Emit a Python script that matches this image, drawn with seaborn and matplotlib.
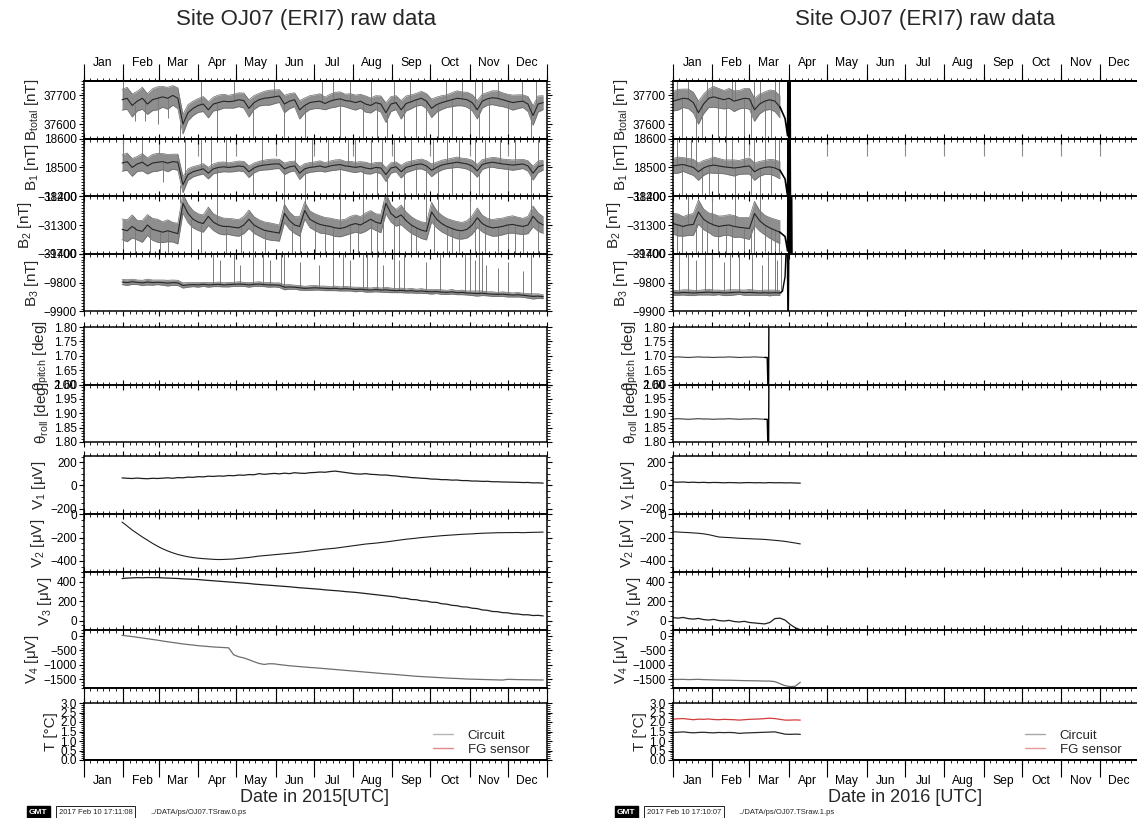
import numpy as np
import pandas as pd
import matplotlib
matplotlib.use("Agg")
import matplotlib.pyplot as plt
import matplotlib.dates as mdates
from matplotlib.lines import Line2D
from matplotlib.ticker import MultipleLocator, NullFormatter, NullLocator, FuncFormatter
import seaborn as sns

# ---------------------------------------------------------------- 2015 record
# magnetometer samples every 4 days starting 31 Jan 2015
t15_start = "2015-01-31"
t15_day0 = 30

btot15 = [37685, 37690, 37665, 37680, 37690, 37670, 37685, 37690, 37695, 37690, 37700, 37690,
          37600, 37640, 37655, 37665, 37670, 37650, 37670, 37675, 37680, 37678, 37680,
          37685, 37682, 37655, 37675, 37685, 37690, 37692, 37695,
          37698, 37670, 37680, 37685, 37650, 37665, 37675,
          37678, 37680, 37672, 37680, 37685, 37688, 37682, 37680,
          37675, 37680, 37670, 37665, 37675, 37670, 37640, 37670,
          37675, 37650, 37672, 37678, 37685, 37690, 37680,
          37655, 37668, 37675, 37680, 37685, 37690, 37688, 37685,
          37675, 37650, 37680, 37688, 37692, 37690, 37685,
          37680, 37675, 37678, 37680, 37670, 37630, 37670, 37675]
btot15_sd = [36, 38, 40, 34, 38, 36, 38, 40, 36, 38, 34, 36,
             34, 28, 25, 24, 26, 28, 24, 26, 24, 22, 24,
             24, 26, 30, 24, 22, 24, 26, 24,
             22, 30, 26, 24, 32, 26, 24,
             24, 26, 22, 24, 26, 24, 22, 26,
             26, 24, 28, 26, 24, 28, 34, 26,
             24, 32, 26, 24, 22, 24, 26,
             32, 26, 24, 22, 24, 26, 24, 26,
             28, 32, 24, 22, 24, 26, 24,
             24, 26, 24, 22, 26, 34, 28, 24]

b1_15 = [18515, 18520, 18500, 18512, 18518, 18505, 18515, 18518, 18520, 18515, 18520, 18518,
         18440, 18475, 18485, 18490, 18495, 18480, 18495, 18500, 18502, 18500, 18502,
         18505, 18503, 18485, 18498, 18505, 18508, 18510, 18512,
         18512, 18495, 18502, 18505, 18480, 18495, 18500,
         18502, 18505, 18500, 18505, 18508, 18510, 18505, 18503,
         18500, 18503, 18498, 18495, 18500, 18498, 18475, 18498,
         18502, 18485, 18500, 18505, 18510, 18512, 18505,
         18490, 18500, 18508, 18512, 18515, 18518, 18515, 18512,
         18505, 18488, 18510, 18515, 18518, 18515, 18512,
         18510, 18508, 18510, 18512, 18505, 18480, 18502, 18508]
b1_15_sd = [28, 30, 31, 26, 30, 28, 30, 31, 28, 30, 26, 28,
            28, 20, 18, 17, 18, 20, 17, 18, 17, 16, 17,
            17, 18, 20, 17, 16, 17, 18, 17,
            16, 20, 18, 17, 22, 18, 17,
            17, 18, 16, 17, 18, 17, 16, 18,
            18, 17, 20, 18, 17, 20, 24, 18,
            17, 22, 18, 17, 16, 17, 18,
            22, 18, 17, 16, 17, 18, 17, 18,
            20, 22, 17, 16, 17, 18, 17,
            17, 18, 17, 16, 18, 24, 20, 17]

b2_15 = [-31315, -31320, -31305, -31318, -31322, -31300, -31315, -31320, -31325, -31320, -31325, -31330,
         -31225, -31260, -31280, -31290, -31295, -31270, -31290, -31300, -31305, -31305, -31308,
         -31310, -31300, -31280, -31300, -31310, -31318, -31322, -31325,
         -31328, -31260, -31285, -31300, -31305, -31250, -31280,
         -31290, -31298, -31302, -31305, -31310, -31312, -31308, -31300,
         -31295, -31300, -31290, -31280, -31290, -31295, -31225, -31260,
         -31275, -31265, -31285, -31300, -31310, -31318, -31322,
         -31255, -31280, -31295, -31305, -31312, -31318, -31320, -31315,
         -31300, -31275, -31295, -31305, -31310, -31308, -31305,
         -31300, -31298, -31302, -31305, -31300, -31270, -31290, -31300]
b2_15_sd = [36, 38, 40, 34, 38, 36, 38, 40, 36, 38, 34, 36,
            34, 32, 30, 29, 30, 32, 29, 30, 29, 28, 29,
            29, 30, 32, 29, 28, 29, 30, 29,
            28, 32, 30, 29, 34, 30, 29,
            29, 30, 28, 29, 30, 29, 28, 30,
            30, 29, 32, 30, 29, 32, 36, 30,
            29, 34, 30, 29, 28, 29, 30,
            34, 30, 29, 28, 29, 30, 29, 30,
            32, 34, 29, 28, 29, 30, 29,
            29, 30, 29, 28, 30, 36, 32, 29]

b3_15 = [-9798, -9800, -9797, -9799, -9801, -9798, -9800, -9799, -9800, -9802, -9800, -9801,
         -9810, -9808, -9807, -9808, -9806, -9808, -9807, -9806, -9808, -9807, -9806,
         -9805, -9806, -9808, -9806, -9805, -9807, -9808, -9808,
         -9809, -9816, -9815, -9816, -9818, -9820, -9819,
         -9818, -9819, -9820, -9821, -9820, -9822, -9821, -9822,
         -9824, -9823, -9825, -9826, -9824, -9826, -9825, -9827,
         -9828, -9827, -9829, -9828, -9830, -9829, -9831,
         -9832, -9831, -9833, -9834, -9832, -9835, -9834, -9836,
         -9837, -9838, -9837, -9839, -9840, -9841, -9840,
         -9842, -9843, -9842, -9844, -9846, -9848, -9847, -9849]
b3_15_sd = [9, 10, 9, 8, 9, 10, 9, 8, 9, 10, 9, 9,
            9, 8, 7, 8, 7, 8, 7, 8, 7, 8, 7,
            8, 7, 8, 7, 8, 7, 8, 7,
            8, 9, 8, 7, 8, 7, 8,
            8, 7, 8, 7, 8, 7, 8, 7,
            8, 7, 8, 7, 8, 7, 9, 8,
            7, 8, 7, 8, 7, 8, 7,
            8, 7, 8, 7, 8, 7, 8, 7,
            8, 9, 8, 7, 8, 7, 8,
            8, 7, 8, 7, 8, 9, 8, 7]

# electrode voltages (same sampling)
v1_15 = [65, 62, 60, 64, 60, 58, 62, 60, 63, 66, 62, 68,
         66, 72, 70, 76, 74, 80, 78, 82, 80, 86, 84,
         90, 88, 94, 92, 102, 96, 100, 104,
         100, 106, 102, 110, 106, 104, 110,
         112, 116, 114, 120, 124, 118, 112, 106,
         100, 98, 102, 96, 94, 90, 90, 85,
         82, 76, 74, 68, 66, 62, 60,
         55, 54, 50, 50, 46, 47, 42, 42,
         38, 38, 35, 36, 32, 32, 30,
         29, 28, 27, 25, 26, 22, 23, 20]
v2_15 = [-66, -100, -135, -165, -195, -222, -250, -275, -297, -316, -332, -346,
         -357, -366, -373, -378, -382, -385, -388, -390, -389, -387, -385,
         -380, -376, -372, -366, -360, -356, -352, -348,
         -344, -340, -336, -332, -327, -322, -316,
         -311, -305, -300, -296, -292, -286, -280, -274,
         -268, -262, -256, -252, -248, -243, -238, -232,
         -226, -220, -214, -210, -205, -200, -196,
         -192, -188, -184, -181, -178, -175, -172, -170,
         -168, -165, -163, -161, -160, -158, -158,
         -157, -157, -156, -158, -156, -155, -154, -153]
v3_15 = [435, 440, 442, 445, 443, 446, 444, 445, 442, 440, 438, 436,
         432, 430, 428, 425, 420, 416, 412, 408, 404, 400, 396,
         392, 388, 384, 378, 374, 370, 366, 362,
         358, 354, 350, 345, 340, 336, 332,
         328, 324, 318, 314, 310, 306, 300, 296,
         292, 286, 280, 274, 268, 262, 256, 250,
         244, 232, 230, 218, 216, 204, 202,
         190, 188, 174, 170, 158, 154, 142, 140,
         128, 124, 110, 106, 94, 92, 82,
         80, 70, 68, 60, 60, 52, 54, 48]
v4_15 = [20, 0, -20, -45, -70, -95, -120, -145, -175, -200, -225, -250,
         -275, -295, -315, -335, -350, -365, -380, -390, -400, -410, -650,
         -720, -760, -820, -890, -950, -985, -960, -965,
         -990, -1010, -1030, -1045, -1060, -1075, -1090,
         -1100, -1115, -1130, -1145, -1160, -1175, -1190, -1205,
         -1220, -1235, -1250, -1265, -1280, -1295, -1310, -1320,
         -1335, -1350, -1365, -1380, -1395, -1405, -1415,
         -1425, -1435, -1445, -1455, -1465, -1470, -1480, -1490,
         -1495, -1500, -1505, -1510, -1515, -1520, -1525,
         -1500, -1505, -1510, -1512, -1515, -1518, -1520, -1522]

# short-lived disturbances (day of year, value reached)
btot15_spk_day = [31, 40, 48, 58, 66, 76, 92, 105, 118, 133, 150, 158, 174, 188, 196, 202, 210,
                  220, 226, 231, 239, 244, 252, 257, 262, 270, 279, 285, 290, 298, 304, 308, 311,
                  314, 319, 326, 334, 345, 352, 356]
btot15_spk_end = [37750, 37610, 37610, 37600, 37620, 37550, 37750, 37550, 37750, 37550, 37750,
                  37550, 37550, 37750, 37750, 37550, 37750, 37550, 37750, 37550, 37550, 37750,
                  37550, 37750, 37550, 37550, 37550, 37750, 37550, 37750, 37550, 37750, 37550,
                  37750, 37550, 37750, 37550, 37750, 37550, 37750]
b1_15_spk_day = [31, 46, 62, 76, 80, 92, 100, 105, 112, 133, 140, 158, 166, 174, 180, 192, 202,
                 208, 214, 220, 226, 231, 235, 239, 244, 252, 258, 262, 270, 275, 279, 286, 290,
                 296, 304, 308, 311, 316, 319, 328, 334, 340, 352, 358]
b1_15_spk_end = [18600, 18600, 18450, 18400, 18600, 18600, 18600, 18400, 18600, 18400, 18600,
                 18400, 18600, 18400, 18600, 18600, 18400, 18600, 18600, 18400, 18600, 18400,
                 18600, 18400, 18600, 18400, 18600, 18400, 18400, 18600, 18400, 18600, 18400,
                 18600, 18400, 18600, 18400, 18600, 18400, 18600, 18400, 18600, 18400, 18600]
b2_15_spk_day = [31, 40, 52, 60, 66, 76, 84, 92, 105, 112, 124, 133, 143, 158, 164, 170, 174,
                 182, 190, 196, 202, 210, 216, 220, 226, 231, 236, 239, 244, 248, 252, 258, 262,
                 270, 276, 279, 286, 290, 296, 304, 308, 311, 316, 319, 326, 334, 340, 346, 352, 358]
b2_15_spk_end = [-31400, -31400, -31400, -31400, -31400, -31200, -31400, -31400, -31200, -31400,
                 -31400, -31400, -31400, -31200, -31400, -31400, -31200, -31400, -31400, -31400,
                 -31200, -31400, -31400, -31200, -31400, -31400, -31400, -31200, -31400, -31400,
                 -31200, -31400, -31400, -31200, -31400, -31200, -31400, -31400, -31400, -31200,
                 -31400, -31400, -31400, -31200, -31400, -31400, -31400, -31400, -31200, -31400]
b3_15_spk_day = [102, 107, 118, 123, 133, 141, 147, 155, 158, 170, 185, 196, 204, 210, 220, 223,
                 231, 236, 244, 248, 252, 270, 281, 300, 304, 308, 311, 314, 317, 326, 334, 346, 352]
b3_15_spk_end = [-9700, -9720, -9700, -9740, -9700, -9700, -9720, -9700, -9700, -9730, -9740,
                 -9700, -9700, -9720, -9700, -9700, -9700, -9740, -9700, -9720, -9700, -9730,
                 -9700, -9700, -9700, -9720, -9700, -9700, -9740, -9750, -9730, -9760, -9700]

# ---------------------------------------------------------------- 2016 record
t16_start = "2016-01-01"
t16_day0 = 0

btot16 = [37680, 37685, 37690, 37688, 37675, 37640, 37670, 37690, 37695, 37690, 37685,
          37690, 37680, 37685, 37690, 37688, 37650, 37670, 37680, 37685, 37680, 37660]
btot16_sd = [34, 36, 32, 34, 36, 40, 34, 32, 36, 34, 32, 34, 36, 32, 34, 36, 40, 34, 32, 34, 36, 38]
b1_16 = [18505, 18508, 18510, 18505, 18500, 18485, 18498, 18505, 18508, 18505, 18502,
         18500, 18498, 18500, 18503, 18505, 18485, 18495, 18500, 18502, 18498, 18490]
b1_16_sd = [26, 28, 24, 26, 28, 30, 26, 24, 28, 26, 24, 26, 28, 24, 26, 28, 30, 26, 24, 26, 28, 30]
b2_16 = [-31295, -31300, -31305, -31300, -31298, -31255, -31280, -31292, -31300, -31305, -31302,
         -31300, -31305, -31308, -31310, -31312, -31260, -31285, -31300, -31310, -31318, -31325]
b2_16_sd = [36, 38, 34, 36, 38, 42, 36, 34, 38, 36, 34, 36, 38, 34, 36, 38, 42, 36, 34, 36, 38, 40]
b3_16 = [-9835, -9836, -9834, -9835, -9836, -9835, -9834, -9833, -9835, -9834, -9836,
         -9835, -9834, -9833, -9835, -9834, -9835, -9836, -9835, -9836, -9835, -9836]
b3_16_sd = [9, 8, 9, 10, 9, 8, 9, 10, 9, 8, 9, 10, 9, 8, 9, 10, 9, 8, 9, 10, 9, 8]

# readings after the sensor was disturbed at the end of March
b16_tail_day = [84, 88, 90, 90.6, 91.2, 91.8, 92.4]
btot16_tail = [37660, 37620, 37560, 38000, 37200, 38000, 37200]
b1_16_tail = [18490, 18460, 18400, 18800, 18200, 18800, 18200]
b2_16_tail_day = [84, 88, 90, 90.6, 91.2, 91.8, 92.4, 93.0, 93.6]
b2_16_tail = [-31325, -31340, -31390, -31000, -31600, -31000, -31600, -31000, -31600]
b3_16_tail_day = [84, 86, 88, 89.6, 90.4, 91.2]
b3_16_tail = [-9836, -9830, -9780, -9600, -10000, -9600]

btot16_spk_day = [3, 7, 12, 18, 23, 27, 31, 35, 42, 46, 49, 56, 61, 64, 68, 72, 77, 80, 83]
btot16_spk_end = [37750, 37550, 37750, 37550, 37550, 37750, 37750, 37550, 37550, 37750, 37750,
                  37550, 37550, 37750, 37750, 37550, 37550, 37750, 37750]
b1_16_spk_day = [3, 7, 10, 14, 18, 23, 28, 31, 35, 42, 46, 49, 56, 61, 64, 68, 72, 77, 80, 83]
b1_16_spk_end = [18600, 18400, 18600, 18600, 18600, 18400, 18400, 18600, 18400, 18600, 18600,
                 18400, 18600, 18400, 18600, 18400, 18600, 18400, 18600, 18600]
b2_16_spk_day = [3, 7, 12, 18, 23, 27, 31, 35, 42, 46, 49, 56, 61, 64, 68, 72, 77, 80, 83]
b2_16_spk_end = [-31400, -31400, -31200, -31400, -31400, -31400, -31200, -31400, -31400, -31400,
                 -31200, -31400, -31400, -31400, -31200, -31400, -31400, -31400, -31400]
b3_16_spk_day = [5, 12, 18, 25, 31, 40, 45, 52, 62, 70, 75, 80, 82, 85]
b3_16_spk_end = [-9700, -9700, -9720, -9700, -9700, -9730, -9700, -9700, -9700, -9740, -9700,
                 -9700, -9720, -9700]

# tilt (sampled every 4 days until mid March)
pitch16 = [1.695, 1.696, 1.695, 1.694, 1.695, 1.696, 1.695, 1.695, 1.694, 1.695,
           1.695, 1.696, 1.695, 1.694, 1.695, 1.695, 1.696, 1.695, 1.694]
roll16 = [1.880, 1.881, 1.880, 1.879, 1.880, 1.881, 1.880, 1.880, 1.879, 1.880,
          1.880, 1.881, 1.880, 1.879, 1.880, 1.880, 1.881, 1.880, 1.879]
tilt16_tail_day = [72, 74, 75, 75.4]
pitch16_tail = [1.694, 1.694, 1.50, 1.90]
roll16_tail = [1.879, 1.879, 1.70, 2.10]

# voltages and temperatures, every 4 days to mid April
v1_16 = [30, 28, 30, 26, 28, 25, 27, 24, 26, 25, 23, 25, 24, 22, 24, 25, 23, 24, 22, 25, 23,
         24, 22, 23, 21, 20]
v2_16 = [-150, -152, -155, -157, -160, -163, -168, -175, -185, -195, -198, -200, -203, -206,
         -208, -210, -212, -214, -216, -220, -224, -228, -233, -240, -247, -255]
v3_16 = [30, 25, 32, 20, 15, 22, 10, 5, 12, 0, -5, 2, -10, -15, -8, -20, -25, -30, -35, -20,
         20, 25, 5, -40, -75, -95]
v4_16 = [-1500, -1505, -1500, -1510, -1505, -1500, -1510, -1515, -1520, -1525, -1530, -1530,
         -1535, -1540, -1545, -1548, -1550, -1555, -1560, -1560, -1580, -1650, -1720, -1750,
         -1740, -1600]
t_circuit16 = [1.45, 1.46, 1.48, 1.45, 1.43, 1.45, 1.46, 1.44, 1.43, 1.45, 1.44, 1.45, 1.44,
               1.40, 1.42, 1.43, 1.44, 1.45, 1.46, 1.47, 1.48, 1.42, 1.36, 1.35, 1.36, 1.35]
t_fg16 = [2.15, 2.17, 2.18, 2.15, 2.12, 2.15, 2.14, 2.16, 2.13, 2.12, 2.14, 2.13, 2.12, 2.10,
          2.12, 2.14, 2.15, 2.16, 2.18, 2.20, 2.18, 2.14, 2.10, 2.10, 2.11, 2.10]

month_names = ["Jan", "Feb", "Mar", "Apr", "May", "Jun", "Jul", "Aug", "Sep", "Oct", "Nov", "Dec"]
legend_labels = ["Circuit", "FG sensor"]

# ---------------------------------------------------------------- styling
sns.set_theme(style="ticks")
plt.rcParams["font.family"] = ["Liberation Sans", "DejaVu Sans"]
plt.rcParams["mathtext.fontset"] = "custom"
plt.rcParams["mathtext.rm"] = "Liberation Sans"
plt.rcParams["mathtext.it"] = "Liberation Sans:italic"
plt.rcParams["mathtext.default"] = "regular"
plt.rcParams["axes.edgecolor"] = "black"
plt.rcParams["xtick.color"] = "black"
plt.rcParams["ytick.color"] = "black"

W, H = 1137, 818
fig = plt.figure(figsize=(W / 100, H / 100), dpi=100)
fig.patch.set_facecolor("white")

panel_rows = [("btot", 81, 138.6), ("b1", 138.6, 196.2), ("b2", 196.2, 253.8), ("b3", 253.8, 311.4),
              ("pitch", 327, 384.5), ("roll", 384.5, 442),
              ("v1", 456.5, 514.4), ("v2", 514.4, 572.3), ("v3", 572.3, 630.2), ("v4", 630.2, 688),
              ("temp", 703, 760)]

yspec = {
    "btot": ((37550, 37750), 100, 10, "%d", "B$_{total}$ [nT]"),
    "b1": ((18400, 18600), 100, 10, "%d", "B$_1$ [nT]"),
    "b2": ((-31400, -31200), 100, 10, "%d", "B$_2$ [nT]"),
    "b3": ((-9900, -9700), 100, 10, "%d", "B$_3$ [nT]"),
    "pitch": ((1.60, 1.80), 0.05, 0.01, "%.2f", "θ$_{pitch}$ [deg]"),
    "roll": ((1.80, 2.00), 0.05, 0.01, "%.2f", "θ$_{roll}$ [deg]"),
    "v1": ((-250, 250), 200, 50, "%d", "V$_1$ [μV]"),
    "v2": ((-500, 0), 200, 50, "%d", "V$_2$ [μV]"),
    "v3": ((-100, 500), 200, 50, "%d", "V$_3$ [μV]"),
    "v4": ((-1800, 200), 500, 100, "%d", "V$_4$ [μV]"),
    "temp": ((0.0, 3.0), 0.5, 0.1, "%.1f", "T [°C]"),
}

BAND = "#8e8e8e"
EDGE = "#6a6a6a"
CORE = "#262626"
SPIKE = "#7a7a7a"


def minus_fmt(fmt):
    return FuncFormatter(lambda v, p: (fmt % v).replace("-", "\u2212"))


def month_ticks(ax, loc, length, color="black"):
    sec = ax.secondary_xaxis(loc)
    sec.xaxis.set_major_locator(mdates.MonthLocator())
    sec.xaxis.set_major_formatter(NullFormatter())
    sec.xaxis.set_minor_locator(NullLocator())
    sec.tick_params(which="major", length=length, width=0.8, color=color, direction="out")
    return sec


def month_labels(ax, loc, pad):
    sec = ax.secondary_xaxis(loc)
    sec.xaxis.set_major_locator(mdates.MonthLocator(bymonthday=16))
    sec.xaxis.set_major_formatter(FuncFormatter(lambda v, p: month_names[mdates.num2date(v).month - 1]))
    sec.xaxis.set_minor_locator(NullLocator())
    sec.tick_params(which="major", length=0, pad=pad, labelsize=8.7)
    return sec


def make_column(x_left, x_right):
    axes = {}
    for name, top, bot in panel_rows:
        ax = fig.add_axes([x_left / W, 1 - bot / H, (x_right - x_left) / W, (bot - top) / H])
        ax.set_facecolor("none")
        axes[name] = ax
    return axes


def band(ax, start, vals, sd):
    dates = pd.date_range(start, periods=len(vals), freq="4D")
    v = np.asarray(vals, float)
    s = np.asarray(sd, float)
    ax.fill_between(dates, v - s, v + s, color=BAND, linewidth=0, zorder=1)
    sns.lineplot(x=dates, y=v - s, ax=ax, color=EDGE, linewidth=0.5, estimator=None, legend=False, zorder=1)
    sns.lineplot(x=dates, y=v + s, ax=ax, color=EDGE, linewidth=0.5, estimator=None, legend=False, zorder=1)
    sns.lineplot(x=dates, y=v, ax=ax, color=CORE, linewidth=0.8, estimator=None, legend=False, zorder=2)


def spikes(ax, year, day0, vals, days, ends):
    base = pd.Timestamp(f"{year}-01-01")
    x = mdates.date2num(base + pd.to_timedelta(np.asarray(days, float), unit="D"))
    idx = np.clip(np.round((np.asarray(days) - day0) / 4).astype(int), 0, len(vals) - 1)
    ax.vlines(x, np.asarray(vals, float)[idx], ends, color=SPIKE, linewidth=0.7, zorder=1)


def trace(ax, year, days, vals, color, lw):
    base = pd.Timestamp(f"{year}-01-01")
    dates = base + pd.to_timedelta(np.asarray(days, float), unit="D")
    sns.lineplot(x=dates, y=vals, ax=ax, color=color, linewidth=lw, estimator=None,
                 sort=False, legend=False, zorder=3)


def series(ax, start, vals, color, lw):
    dates = pd.date_range(start, periods=len(vals), freq="4D")
    sns.lineplot(x=dates, y=vals, ax=ax, color=color, linewidth=lw, estimator=None, legend=False)


def finish_column(axes, year, legend_colors):
    t0, t1 = pd.Timestamp(f"{year}-01-01"), pd.Timestamp(f"{year + 1}-01-01")
    for name, ax in axes.items():
        lim, major, minor, fmt, label = yspec[name]
        ax.set_xlim(t0, t1)
        ax.set_ylim(*lim)
        ax.yaxis.set_major_locator(MultipleLocator(major))
        ax.yaxis.set_minor_locator(MultipleLocator(minor))
        ax.yaxis.set_major_formatter(minus_fmt(fmt))
        ax.set_ylabel(label, fontsize=11, labelpad=2)
        ax.set_xlabel("")
        ax.xaxis.set_major_locator(mdates.MonthLocator())
        ax.xaxis.set_minor_locator(mdates.DayLocator(bymonthday=[6, 11, 16, 21, 26]))
        ax.xaxis.set_major_formatter(NullFormatter())
        ax.xaxis.set_minor_formatter(NullFormatter())
        ax.tick_params(axis="x", which="both", top=True, bottom=True, direction="out",
                       labelbottom=False, labeltop=False)
        ax.tick_params(axis="x", which="major", length=3.6, width=0.8)
        ax.tick_params(axis="x", which="minor", length=2.2, width=0.6)
        ax.tick_params(axis="y", which="both", left=True, right=True, direction="out")
        ax.tick_params(axis="y", which="major", length=3.6, width=0.8, labelsize=8.5, pad=1.5)
        ax.tick_params(axis="y", which="minor", length=2.0, width=0.6)
        for s in ax.spines.values():
            s.set_linewidth(1.1)
            s.set_color("black")

    month_ticks(axes["btot"], "top", 12.5)
    month_labels(axes["btot"], "top", 8.5)
    month_ticks(axes["btot"], "bottom", 12.5, color="#8c8c8c")
    month_ticks(axes["v4"], "bottom", 10.8)
    month_ticks(axes["temp"], "bottom", 12.5)
    month_labels(axes["temp"], "bottom", 10.5)

    handles = [Line2D([], [], color=c, linewidth=1.0) for c in legend_colors]
    axes["temp"].legend(handles, legend_labels, loc="lower right", frameon=False, fontsize=9.5,
                        handlelength=1.5, handletextpad=1.1, labelspacing=0.15,
                        borderaxespad=0, borderpad=0, bbox_to_anchor=(0.962, 0.07))


# ---------------------------------------------------------------- 2015 column
L = make_column(84, 547)
band(L["btot"], t15_start, btot15, btot15_sd)
band(L["b1"], t15_start, b1_15, b1_15_sd)
band(L["b2"], t15_start, b2_15, b2_15_sd)
band(L["b3"], t15_start, b3_15, b3_15_sd)
spikes(L["btot"], 2015, t15_day0, btot15, btot15_spk_day, btot15_spk_end)
spikes(L["b1"], 2015, t15_day0, b1_15, b1_15_spk_day, b1_15_spk_end)
spikes(L["b2"], 2015, t15_day0, b2_15, b2_15_spk_day, b2_15_spk_end)
spikes(L["b3"], 2015, t15_day0, b3_15, b3_15_spk_day, b3_15_spk_end)
series(L["v1"], t15_start, v1_15, "#1e1e1e", 0.9)
series(L["v2"], t15_start, v2_15, "#1e1e1e", 0.8)
series(L["v3"], t15_start, v3_15, "#1e1e1e", 0.9)
series(L["v4"], t15_start, v4_15, "#6e6e6e", 0.9)
finish_column(L, 2015, ["#b5b5b5", "#e58a8a"])

# ---------------------------------------------------------------- 2016 column
R = make_column(673, 1139)
band(R["btot"], t16_start, btot16, btot16_sd)
band(R["b1"], t16_start, b1_16, b1_16_sd)
band(R["b2"], t16_start, b2_16, b2_16_sd)
band(R["b3"], t16_start, b3_16, b3_16_sd)
spikes(R["btot"], 2016, t16_day0, btot16, btot16_spk_day, btot16_spk_end)
spikes(R["b1"], 2016, t16_day0, b1_16, b1_16_spk_day, b1_16_spk_end)
spikes(R["b2"], 2016, t16_day0, b2_16, b2_16_spk_day, b2_16_spk_end)
spikes(R["b3"], 2016, t16_day0, b3_16, b3_16_spk_day, b3_16_spk_end)
trace(R["btot"], 2016, b16_tail_day, btot16_tail, "black", 1.2)
trace(R["b1"], 2016, b16_tail_day, b1_16_tail, "black", 1.2)
trace(R["b2"], 2016, b2_16_tail_day, b2_16_tail, "black", 1.2)
trace(R["b3"], 2016, b3_16_tail_day, b3_16_tail, "black", 1.0)
series(R["pitch"], t16_start, pitch16, "#3a3a3a", 0.8)
series(R["roll"], t16_start, roll16, "#3a3a3a", 0.8)
trace(R["pitch"], 2016, tilt16_tail_day, pitch16_tail, "black", 1.0)
trace(R["roll"], 2016, tilt16_tail_day, roll16_tail, "black", 1.0)
series(R["v1"], t16_start, v1_16, "#1e1e1e", 0.9)
series(R["v2"], t16_start, v2_16, "#1e1e1e", 0.8)
series(R["v3"], t16_start, v3_16, "#1e1e1e", 0.9)
series(R["v4"], t16_start, v4_16, "#6e6e6e", 0.9)
series(R["temp"], t16_start, t_circuit16, "#2a2a2a", 0.9)
series(R["temp"], t16_start, t_fg16, "#d43c3c", 0.9)
finish_column(R, 2016, ["#a8a8a8", "#e89a9a"])

# ---------------------------------------------------------------- titles and footers
title = "Site OJ07 (ERI7) raw data"
fig.text(306 / W, 1 - 19 / H, title, ha="center", va="center", fontsize=16)
fig.text(925 / W, 1 - 19 / H, title, ha="center", va="center", fontsize=16)
fig.text(315 / W, 1 - 798 / H, "Date in 2015[UTC]", ha="center", va="center", fontsize=13)
fig.text(905 / W, 1 - 798 / H, "Date in 2016 [UTC]", ha="center", va="center", fontsize=13)


def footer(x_logo, stamp, path):
    y = 1 - 812 / H
    fig.text(x_logo / W, y, "GMT", color="white", fontsize=6, fontweight="bold", ha="left", va="center",
             bbox=dict(boxstyle="square,pad=0.25", facecolor="black", edgecolor="black"))
    fig.text((x_logo + 30) / W, y, stamp, fontsize=5.5, ha="left", va="center",
             bbox=dict(boxstyle="square,pad=0.35", facecolor="white", edgecolor="black", linewidth=0.6))
    fig.text((x_logo + 121) / W, y, path, fontsize=5.5, ha="left", va="center")


footer(29, "2017 Feb 10 17:11:08", "../DATA/ps/OJ07.TSraw.0.ps")
footer(617, "2017 Feb 10 17:10:07", "../DATA/ps/OJ07.TSraw.1.ps")

fig.savefig("out.png", dpi=100, facecolor="white")
